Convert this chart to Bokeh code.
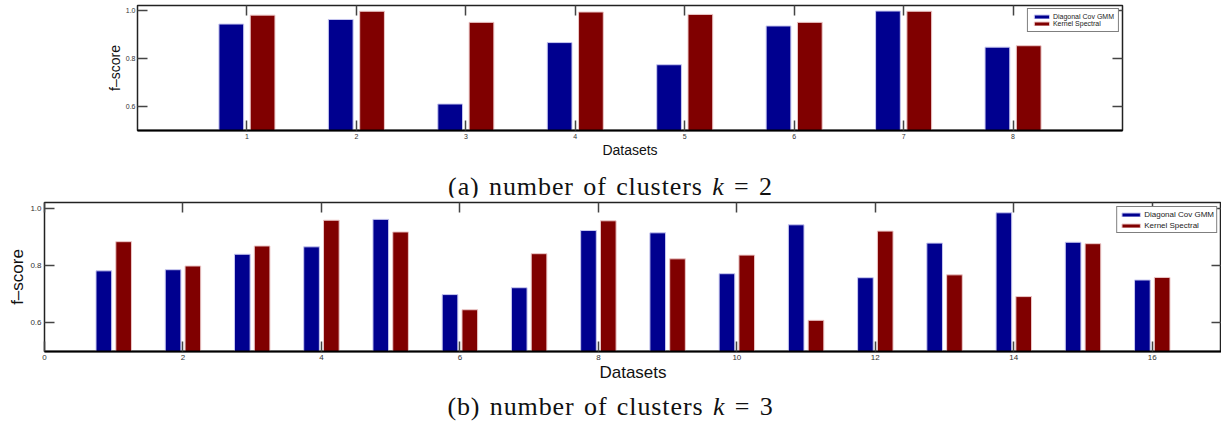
from bokeh.plotting import figure
from bokeh.models import (LinearAxis, FixedTicker, Legend, LegendItem, Div, ColumnDataSource,
                          Range1d, PrintfTickFormatter)
from bokeh.layouts import column
from bokeh.transform import dodge
from bokeh.embed import file_html
from bokeh.resources import INLINE

# ---------------- data ----------------
series_names = ["Diagonal Cov GMM", "Kernel Spectral"]

k2_datasets = [1, 2, 3, 4, 5, 6, 7, 8]
k2_gmm = [0.942, 0.961, 0.610, 0.865, 0.773, 0.934, 0.996, 0.846]
k2_spectral = [0.979, 0.995, 0.949, 0.992, 0.982, 0.949, 0.995, 0.852]

k3_datasets = list(range(1, 17))
k3_gmm = [0.782, 0.786, 0.840, 0.866, 0.962, 0.699, 0.723, 0.923,
          0.915, 0.772, 0.943, 0.758, 0.879, 0.985, 0.882, 0.750]
k3_spectral = [0.884, 0.799, 0.869, 0.959, 0.918, 0.646, 0.842, 0.957,
               0.824, 0.837, 0.609, 0.921, 0.768, 0.692, 0.877, 0.759]

k2_xticks = [1, 2, 3, 4, 5, 6, 7, 8]
k3_xticks = [0, 2, 4, 6, 8, 10, 12, 14, 16]
yticks = [0.6, 0.8, 1.0]

caption_a = "(a) number of clusters <i>k</i> = 2"
caption_b = "(b) number of clusters <i>k</i> = 3"

# ---------------- style ----------------
BLUE = "#00008F"
RED = "#800000"
BLUE_EDGE = "#c8c8f0"
RED_EDGE = "#ecc8c8"
SANS = "Liberation Sans"
OFFSET = 0.143
BAR_W = 0.226
W = 1221


def make_plot(xs, gmm, spec, xr, yr, xticks, height, borders, tick_font,
              label_font, tick_len, legend_cfg, y_standoff, label_standoffs):
    src = ColumnDataSource(dict(x=xs, gmm=gmm, spec=spec))
    bl, br, bt, bb = borders
    p = figure(width=W, height=height, x_range=Range1d(*xr), y_range=Range1d(*yr),
               output_backend="svg", toolbar_location=None, frame_align=False,
               min_border_left=bl, min_border_right=br,
               min_border_top=bt, min_border_bottom=bb,
               x_axis_label="Datasets", y_axis_label="f\u2013score")
    p.grid.visible = False
    p.background_fill_color = "white"
    p.border_fill_color = "white"
    p.outline_line_color = "#222222"
    p.outline_line_width = 1.5

    r1 = p.vbar(x=dodge("x", -OFFSET, range=p.x_range), top="gmm", bottom=0, width=BAR_W,
                source=src, fill_color=BLUE, line_color=BLUE_EDGE, line_width=1)
    r2 = p.vbar(x=dodge("x", OFFSET, range=p.x_range), top="spec", bottom=0, width=BAR_W,
                source=src, fill_color=RED, line_color=RED_EDGE, line_width=1)

    xa = p.xaxis[0]
    xa.ticker = FixedTicker(ticks=xticks)
    xa.minor_tick_line_color = None
    xa.major_tick_in = tick_len
    xa.major_tick_out = 0
    xa.major_tick_line_color = "#444444"
    xa.major_tick_line_width = 1.5
    xa.axis_line_color = "black"
    xa.axis_line_width = 2
    xa.major_label_text_font = SANS
    xa.major_label_text_font_size = tick_font
    xa.major_label_text_color = "#333333"
    xa.major_label_standoff = label_standoffs[0]
    xa.axis_label_text_font = SANS
    xa.axis_label_text_font_size = label_font
    xa.axis_label_text_font_style = "normal"
    xa.axis_label_text_color = "#111111"
    xa.axis_label_standoff = label_standoffs[1]

    ya = p.yaxis[0]
    ya.ticker = FixedTicker(ticks=yticks)
    ya.formatter = PrintfTickFormatter(format="%.1f")
    ya.minor_tick_line_color = None
    ya.major_tick_in = tick_len
    ya.major_tick_out = 0
    ya.major_tick_line_color = "#444444"
    ya.major_tick_line_width = 1.5
    ya.axis_line_color = None
    ya.major_label_text_font = SANS
    ya.major_label_text_font_size = tick_font
    ya.major_label_text_color = "#333333"
    ya.major_label_standoff = y_standoff
    ya.axis_label_text_font = SANS
    ya.axis_label_text_font_size = label_font
    ya.axis_label_text_font_style = "normal"
    ya.axis_label_text_color = "#111111"
    ya.axis_label_standoff = label_standoffs[2]

    top_ax = LinearAxis(ticker=FixedTicker(ticks=xticks))
    right_ax = LinearAxis(ticker=FixedTicker(ticks=yticks))
    for ax in (top_ax, right_ax):
        ax.major_label_text_font_size = "1px"
        ax.major_label_text_color = None
        ax.major_label_standoff = 0
        ax.major_tick_in = tick_len
        ax.major_tick_out = 0
        ax.minor_tick_line_color = None
        ax.major_tick_line_color = "#444444"
        ax.major_tick_line_width = 1.5
        ax.axis_line_color = None
    p.add_layout(top_ax, "above")
    p.add_layout(right_ax, "right")

    gw, gh, fs, pad, lh, sp, mg = legend_cfg
    legend = Legend(items=[LegendItem(label=series_names[0], renderers=[r1]),
                           LegendItem(label=series_names[1], renderers=[r2])],
                    location="top_right", glyph_width=gw, glyph_height=gh,
                    label_text_font=SANS, label_text_font_size=fs,
                    label_text_color="#222222", label_standoff=2,
                    label_height=lh, spacing=sp, padding=pad, margin=mg,
                    border_line_color="black", border_line_width=1.5,
                    background_fill_color="white", background_fill_alpha=1.0)
    p.add_layout(legend)
    return p


# top: frame 5..130 (y), 137..1122 (x)
p1 = make_plot(k2_datasets, k2_gmm, k2_spectral, (0, 9), (0.5, 1.019), k2_xticks,
               160, (137, W - 1122, 5, 30), "7px", "14px", 10,
               (19, 5, "7px", 4, 6, 0, 3), 2, (3, 0, 0))
# bottom: frame 202..351 (y), 44..1221 (x)
p2 = make_plot(k3_datasets, k3_gmm, k3_spectral, (0, 17), (0.5, 1.021), k3_xticks,
               189, (44, 0, 5, 35), "8px", "17px", 10,
               (23, 5, "8px", 2, 10, 1, 4), 3, (3, 0, 0))


def caption(txt, h, pt):
    return Div(text=('<div style="font-family:\'Liberation Serif\',\'DejaVu Serif\',serif;'
                     'font-size:26px;line-height:26px;text-align:center;width:%dpx;color:#111;'
                     'letter-spacing:0.9px;word-spacing:2px;'
                     'padding-top:%dpx;white-space:nowrap">%s</div>' % (W, pt, txt)),
               width=W, height=h, margin=(0, 0, 0, 0))


layout = column(p1, caption(caption_a, 37, 14), p2, caption(caption_b, 40, 8), spacing=0)

open("out.html", "w").write(file_html(layout, INLINE))
